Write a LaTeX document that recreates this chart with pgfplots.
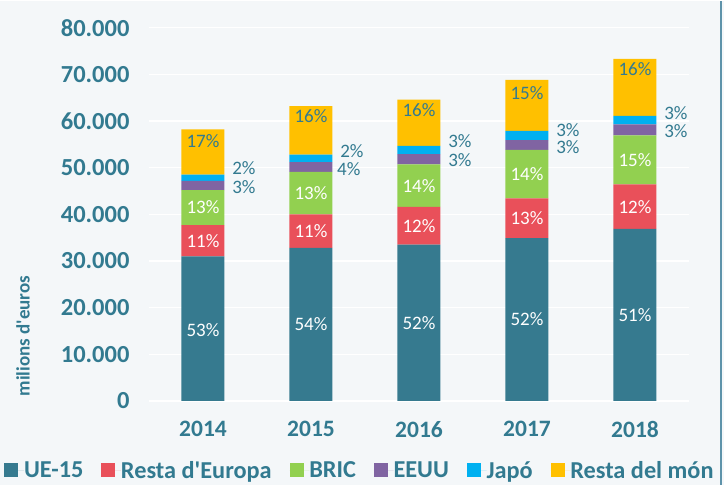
\documentclass[border=0pt]{standalone}
\usepackage{pgfplots}
\pgfplotsset{compat=1.18}
\usepackage{fontspec}
\setmainfont{Carlito}
\definecolor{bg}{HTML}{F4F7F9}
\definecolor{txt}{HTML}{327A90}
\definecolor{cUE}{HTML}{367A8F}
\definecolor{cRE}{HTML}{E9505A}
\definecolor{cBR}{HTML}{92D050}
\definecolor{cUS}{HTML}{8064A2}
\definecolor{cJP}{HTML}{00B0F0}
\definecolor{cRM}{HTML}{FFC000}
\definecolor{border}{HTML}{5E93AA}
\tikzset{lbl/.style={inner sep=0pt, font=\fontsize{19}{22}\selectfont}}
\newcommand{\gap}{\rule{18pt}{0pt}}
\pgfplotsset{geom/.style={at={(149pt,84pt)}, anchor=south west,
  width=540pt, height=373.3pt, scale only axis,
  xmin=-0.5, xmax=4.5, ymin=0, ymax=80000}}
\begin{document}
\begin{tikzpicture}[x=1pt,y=1pt]
\fill[bg] (0,0) rectangle (724,484);
\draw[border, line width=2pt] (721,0) -- (721,484);
\begin{axis}[
  geom,
  ybar stacked, bar width=43pt,
  scaled y ticks=false,
  xtick={0,1,2,3,4}, xticklabels={2014,2015,2016,2017,2018},
  ytick={0,10000,20000,30000,40000,50000,60000,70000,80000},
  yticklabels={0,10.000,20.000,30.000,40.000,50.000,60.000,70.000,80.000},
  axis line style={draw=none},
  major tick length=0pt,
  ymajorgrids, grid style={white, line width=1.5pt},
  xticklabel style={font=\fontsize{23.5}{26}\selectfont\bfseries, text=txt, yshift=-17pt},
  yticklabel style={font=\fontsize{24.5}{27}\selectfont\bfseries, text=txt, xshift=-16pt},
  ylabel={milions d\textquotesingle euros},
  ylabel style={font=\fontsize{19}{22}\selectfont\bfseries, text=txt, at={(axis description cs:-0.2333,0.174)}, anchor=center},
  legend columns=6,
  legend style={at={(axis description cs:-0.268,-0.186)}, anchor=west, draw=none, fill=none, inner sep=0pt,
    font=\fontsize{24.3}{27}\selectfont\bfseries, text=txt,
    nodes={inner sep=0pt}, column sep=0pt},
  legend image code/.code={\fill[#1] (0pt,-7pt) rectangle (14pt,7pt); \path (0pt,0pt) -- (19.6pt,0pt);},
  legend cell align=left,
  clip=false,
]
\addplot[fill=cUE, draw=none] coordinates {(0,31000) (1,32800) (2,33500) (3,34900) (4,36900)};
\addplot[fill=cRE, draw=none] coordinates {(0,6700) (1,7200) (2,8100) (3,8500) (4,9500)};
\addplot[fill=cBR, draw=none] coordinates {(0,7500) (1,9100) (2,9100) (3,10400) (4,10500)};
\addplot[fill=cUS, draw=none] coordinates {(0,2000) (1,2100) (2,2200) (3,2100) (4,2400)};
\addplot[fill=cJP, draw=none] coordinates {(0,1300) (1,1600) (2,1800) (3,2000) (4,1800)};
\addplot[fill=cRM, draw=none] coordinates {(0,9700) (1,10400) (2,9900) (3,10900) (4,12200)};
\legend{UE-15\gap,Resta d\textquotesingle Europa\gap,BRIC\gap,EEUU\gap,Japó\gap,Resta del món}
\end{axis}
\begin{axis}[geom, hide axis, clip=false]
\node[lbl, white] at (axis cs:0,15300) {53\%};
\node[lbl, white] at (axis cs:1,16400) {54\%};
\node[lbl, white] at (axis cs:2,16750) {52\%};
\node[lbl, white] at (axis cs:3,17450) {52\%};
\node[lbl, white] at (axis cs:4,18450) {51\%};
\node[lbl, white] at (axis cs:0,34350) {11\%};
\node[lbl, white] at (axis cs:1,36400) {11\%};
\node[lbl, white] at (axis cs:2,37550) {12\%};
\node[lbl, white] at (axis cs:3,39150) {13\%};
\node[lbl, white] at (axis cs:4,41650) {12\%};
\node[lbl, white] at (axis cs:0,41450) {13\%};
\node[lbl, white] at (axis cs:1,44550) {13\%};
\node[lbl, white] at (axis cs:2,46150) {14\%};
\node[lbl, white] at (axis cs:3,48600) {14\%};
\node[lbl, white] at (axis cs:4,51650) {15\%};
\node[lbl, txt] at (axis cs:0,55700) {17\%};
\node[lbl, txt] at (axis cs:1,61000) {16\%};
\node[lbl, txt] at (axis cs:2,62300) {16\%};
\node[lbl, txt] at (axis cs:3,65900) {15\%};
\node[lbl, txt] at (axis cs:4,71200) {16\%};
\node[lbl, txt, anchor=west] at (axis cs:0.27,50000) {2\%};
\node[lbl, txt, anchor=west] at (axis cs:0.27,45900) {3\%};
\node[lbl, txt, anchor=west] at (axis cs:1.27,53600) {2\%};
\node[lbl, txt, anchor=west] at (axis cs:1.24,49800) {4\%};
\node[lbl, txt, anchor=west] at (axis cs:2.27,55600) {3\%};
\node[lbl, txt, anchor=west] at (axis cs:2.27,51600) {3\%};
\node[lbl, txt, anchor=west] at (axis cs:3.27,58100) {3\%};
\node[lbl, txt, anchor=west] at (axis cs:3.27,54400) {3\%};
\node[lbl, txt, anchor=west] at (axis cs:4.27,61600) {3\%};
\node[lbl, txt, anchor=west] at (axis cs:4.27,57900) {3\%};
\end{axis}
\end{tikzpicture}
\end{document}
